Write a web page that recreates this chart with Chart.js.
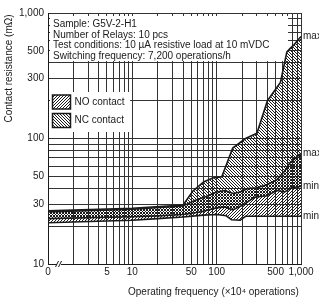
<!DOCTYPE html>
<html>
<head>
<meta charset="utf-8">
<script src="https://cdn.jsdelivr.net/npm/chart.js@4.4.1/dist/chart.umd.min.js"></script>
<style>
  html, body { margin: 0; padding: 0; background: #fff; }
  #wrap { width: 319px; height: 300px; }
</style>
</head>
<body>
<div id="wrap"><canvas id="chart" width="319" height="300"></canvas></div>
<script>
// NC contact band (upper = max, lower = min)
const ncMaxX = [1, 10, 40, 52, 70, 90, 115, 155, 220, 300, 400, 570, 680, 740, 830, 1000];
const ncMaxY = [26.5, 27.8, 29.5, 38, 45, 48.5, 49.5, 84, 100, 110, 200, 280, 490, 520, 560, 650];
const ncMinX = [1, 10, 20, 40, 64, 100, 125, 155, 205, 280, 390, 520, 640, 770, 1000];
const ncMinY = [23, 23.8, 24.2, 24.8, 26, 28, 28.5, 27, 29.5, 34, 35, 38.5, 37.5, 40.5, 41.5];

// NO contact band
const noMaxX = [1, 10, 40, 55, 75, 100, 125, 157, 190, 235, 300, 400, 520, 640, 740, 1000];
const noMaxY = [26, 27.3, 29, 32, 34.5, 37.5, 38.5, 36.5, 37.5, 40, 40.5, 43, 47, 55, 64, 76];
const noMinX = [1, 10, 20, 40, 70, 100, 130, 150, 190, 220, 300, 1000];
const noMinY = [21.3, 22.3, 23, 23.7, 24.5, 24.8, 24.2, 22.5, 22.3, 24, 24, 24];

// axes
const xGridValues = [1, 2, 3, 4, 5, 6, 7, 8, 9, 10, 20, 30, 40, 50, 60, 70, 80, 90, 100,
  200, 300, 400, 500, 600, 700, 800, 900, 1000];
const xLabelValues = [1, 5, 10, 50, 100, 500, 1000];
const xLabelTexts = ['0', '5', '10', '50', '100', '500', '1,000'];
const yGridValues = [10, 20, 30, 40, 50, 60, 70, 80, 90, 100, 200, 300, 400, 500, 600, 700, 800, 900, 1000];
const yLabelValues = [10, 30, 50, 100, 300, 500, 1000];
const yLabelTexts = ['10', '30', '50', '100', '300', '500', '1,000'];

const noteLines = [
  'Sample: G5V-2-H1',
  'Number of Relays: 10 pcs',
  'Test conditions: 10 \u00b5A resistive load at 10 mVDC',
  'Switching frequency: 7,200 operations/h'
];

const FONT = 'Liberation Sans, Arial, Helvetica, sans-serif';
const INK = '#1a1a1a';

const canvas = document.getElementById('chart');
const ctx = canvas.getContext('2d');

// pixel hatch patterns: '/' for NO, '\' for NC
function makeHatch(dir) {
  const n = 3;
  const c = document.createElement('canvas');
  c.width = n; c.height = n;
  const g = c.getContext('2d');
  g.fillStyle = INK;
  for (let x = 0; x < n; x++) {
    for (let y = 0; y < n; y++) {
      const on = dir === '/' ? (x + y) % n === n - 1 : ((x - y) % n + n) % n === 0;
      if (on) g.fillRect(x, y, 1, 1);
    }
  }
  return ctx.createPattern(c, 'repeat');
}
const hatchNO = makeHatch('/');
const hatchNC = makeHatch('\\');

const toPoints = (xs, ys) => xs.map((x, i) => ({ x: x, y: ys[i] }));

const extras = {
  id: 'extras',
  beforeDatasetsDraw(chart) {
    const c = chart.ctx;
    c.save();
    // note box
    c.fillStyle = '#fff';
    c.fillRect(50, 16, 238, 45);
    c.fillStyle = INK;
    c.font = '10px ' + FONT;
    c.textAlign = 'left';
    c.textBaseline = 'middle';
    noteLines.forEach((t, i) => c.fillText(t, 53, 24 + i * 10.8));

    // legend
    c.fillStyle = '#fff';
    c.fillRect(50, 92, 80, 40);
    const sw = [[hatchNO, 95, 'NO contact'], [hatchNC, 113.5, 'NC contact']];
    sw.forEach(([pat, y, label]) => {
      c.fillStyle = pat;
      c.fillRect(52.5, y, 18, 14);
      c.strokeStyle = INK;
      c.lineWidth = 1.5;
      c.strokeRect(52.5, y, 18, 14);
      c.fillStyle = INK;
      c.fillText(label, 74.5, y + 7);
    });
    c.restore();
  },
  afterDraw(chart) {
    const c = chart.ctx;
    const xs = chart.scales.x, ys = chart.scales.y;
    c.save();
    c.fillStyle = INK;
    c.font = '10px ' + FONT;
    c.textBaseline = 'middle';
    c.textAlign = 'left';
    // end labels
    const ends = [[ncMaxY, 'max'], [noMaxY, 'max'], [ncMinY, 'min'], [noMinY, 'min']];
    ends.forEach(([arr, t]) => {
      c.fillText(t, xs.right + 2, ys.getPixelForValue(arr[arr.length - 1]));
    });
    // axis titles
    c.fillText('Operating frequency (\u00d710\u2074 operations)', 128, 292);
    c.save();
    c.translate(9, 68.5);
    c.rotate(-Math.PI / 2);
    c.textAlign = 'center';
    c.fillText('Contact resistance (m\u03a9)', 0, 0);
    c.restore();
    // axis break mark
    const by = xs.top;
    c.fillStyle = '#fff';
    c.fillRect(57, by - 1, 4, 3);
    c.strokeStyle = INK;
    c.lineWidth = 1;
    c.beginPath();
    c.moveTo(55.5, by + 3); c.lineTo(58.5, by - 3);
    c.moveTo(58.5, by + 3); c.lineTo(61.5, by - 3);
    c.stroke();
    c.restore();
  }
};

new Chart(ctx, {
  type: 'line',
  data: {
    datasets: [
      { label: 'NC max', data: toPoints(ncMaxX, ncMaxY), fill: { target: 1 }, backgroundColor: hatchNC },
      { label: 'NC min', data: toPoints(ncMinX, ncMinY), fill: false },
      { label: 'NO max', data: toPoints(noMaxX, noMaxY), fill: { target: 3 }, backgroundColor: hatchNO },
      { label: 'NO min', data: toPoints(noMinX, noMinY), fill: false }
    ]
  },
  options: {
    responsive: false,
    animation: false,
    events: [],
    layout: { padding: { top: 13, right: 18, bottom: 0, left: 0 } },
    elements: {
      point: { radius: 0 },
      line: { tension: 0, borderWidth: 1.6, borderColor: INK }
    },
    plugins: { legend: { display: false }, tooltip: { enabled: false } },
    scales: {
      x: {
        type: 'logarithmic',
        min: 1,
        max: 1000,
        afterBuildTicks: s => { s.ticks = xGridValues.map(v => ({ value: v })); },
        afterFit: s => { s.height = 36; },
        grid: { color: '#333', lineWidth: 1, drawTicks: false },
        border: { color: INK, width: 1 },
        ticks: {
          autoSkip: false,
          maxRotation: 0,
          padding: 2,
          color: INK,
          font: { family: FONT, size: 10 },
          callback: v => {
            const i = xLabelValues.indexOf(v);
            return i >= 0 ? xLabelTexts[i] : '';
          }
        }
      },
      y: {
        type: 'logarithmic',
        min: 10,
        max: 1000,
        afterBuildTicks: s => { s.ticks = yGridValues.map(v => ({ value: v })); },
        afterFit: s => { s.width = 48; },
        grid: { color: '#333', lineWidth: 1, drawTicks: false },
        border: { color: INK, width: 1 },
        ticks: {
          autoSkip: false,
          padding: 4,
          color: INK,
          font: { family: FONT, size: 10 },
          callback: v => {
            const i = yLabelValues.indexOf(v);
            return i >= 0 ? yLabelTexts[i] : '';
          }
        }
      }
    }
  },
  plugins: [extras]
});
</script>
</body>
</html>
